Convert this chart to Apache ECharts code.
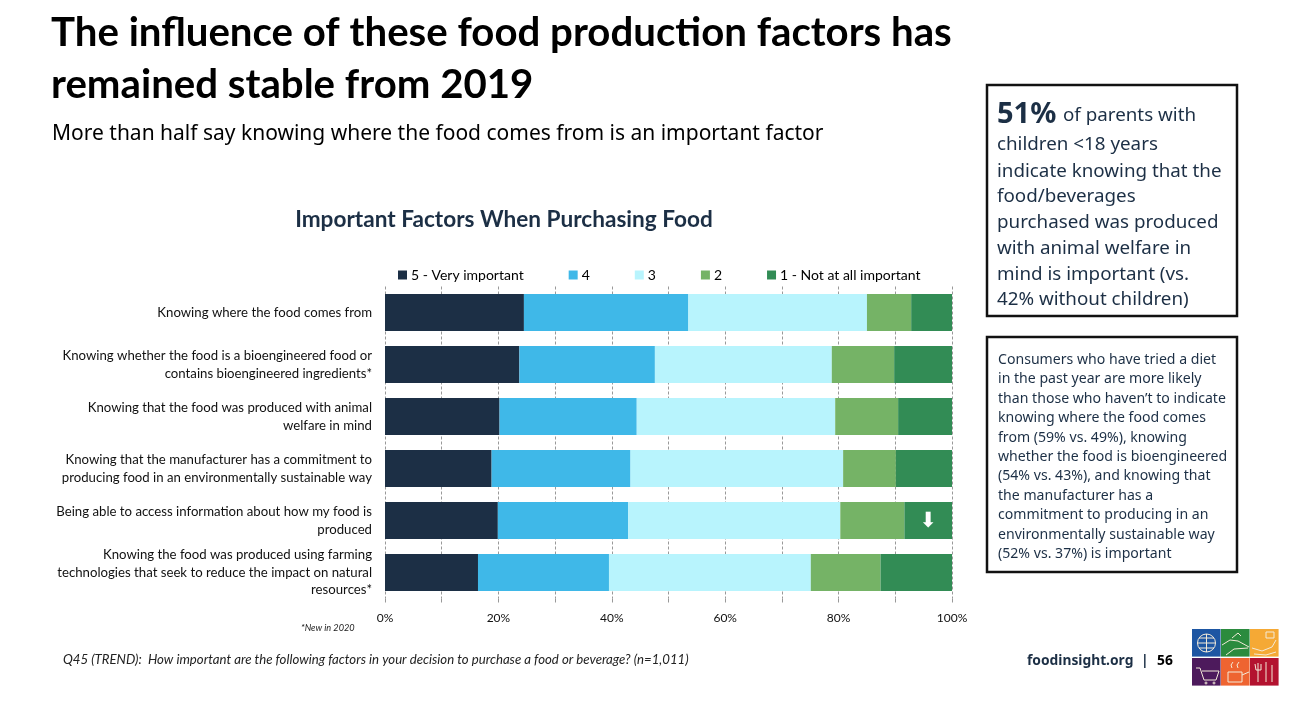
<!DOCTYPE html>
<html>
<head>
<meta charset="utf-8">
<style>
  html, body { margin: 0; padding: 0; background: #fff; }
  #bar_chart { width: 1291px; height: 715px; }
</style>
</head>
<body>
<div id="bar_chart"></div>
<script src="https://cdn.jsdelivr.net/npm/echarts@6/dist/echarts.min.js"></script>
<script>
var navy = '#1c2f45';
var factors = [
    'Knowing where the food comes from',
    'Knowing whether the food is a bioengineered food or\ncontains bioengineered ingredients*',
    'Knowing that the food was produced with animal\nwelfare in mind',
    'Knowing that the manufacturer has a commitment to\nproducing food in an environmentally sustainable way',
    'Being able to access information about how my food is\nproduced',
    'Knowing the food was produced using farming\ntechnologies that seek to reduce the impact on natural\nresources*'
];
var ratings = [
    {name: '5 - Very important', color: '#1c2f45', values: [24.5, 23.7, 20.2, 18.8, 19.9, 16.4]},
    {name: '4', color: '#3fb8e8', values: [29, 23.9, 24.2, 24.5, 23, 23.1]},
    {name: '3', color: '#b8f4fd', values: [31.5, 31.2, 35, 37.5, 37.4, 35.6]},
    {name: '2', color: '#75b366', values: [7.8, 11, 11.1, 9.3, 11.3, 12.3]},
    {name: '1 - Not at all important', color: '#328c55', values: [7.2, 10.2, 9.5, 9.9, 8.4, 12.6]}
];

var box1 = ['children <18 years', 'indicate knowing that the', 'food/beverages', 'purchased was produced', 'with animal welfare in', 'mind is important (vs.', '42% without children)'];
var box1_y = [145, 172, 197, 223, 249, 275, 300];
var box2 = [
    'Consumers who have tried a diet',
    'in the past year are more likely',
    'than those who haven\u2019t to indicate',
    'knowing where the food comes',
    'from (59% vs. 49%), knowing',
    'whether the food is bioengineered',
    '(54% vs. 43%), and knowing that',
    'the manufacturer has a',
    'commitment to producing in an',
    'environmentally sustainable way',
    '(52% vs. 37%) is important'
];

function label(x, y, text, font, color, align) {
    return {
        type: 'text', x: x, y: y, silent: true,
        style: {text: text, font: font, fill: color || '#000', align: align || 'left', verticalAlign: 'middle'}
    };
}
function frame(x, y, w, h) {
    return {type: 'rect', shape: {x: x, y: y, width: w, height: h}, style: {fill: '#fff', stroke: '#111', lineWidth: 2.5}};
}
function tile(x, y, color) {
    return {type: 'rect', shape: {x: x, y: y, width: 28.6, height: 27.6}, style: {fill: color}};
}
var logoStyle = {fill: 'none', stroke: '#f3ead8', lineWidth: 1};
function logoLine(points) {
    return {type: 'polyline', shape: {points: points}, style: logoStyle};
}
function logoCircle(cx, cy, r) {
    return {type: 'circle', shape: {cx: cx, cy: cy, r: r}, style: logoStyle};
}

var extras = [
    label(51, 33, 'The influence of these food production factors has', 'bold 40.2px Lato', '#000'),
    label(51, 85, 'remained stable from 2019', 'bold 40.2px Lato', '#000'),
    label(52, 134, 'More than half say knowing where the food comes from is an important factor', '21px "Noto Sans"', '#000'),
    label(504, 220, 'Important Factors When Purchasing Food', 'bold 22.6px Lato', navy, 'center'),
    label(301, 628, '*New in 2020', 'italic 9.2px Lato', '#222'),
    label(63, 660, 'Q45 (TREND):  How important are the following factors in your decision to purchase a food or beverage? (n=1,011)', 'italic 13.2px Lato', '#222'),
    label(1027, 661, 'foodinsight.org', 'bold 13.8px "Noto Sans"', navy),
    label(1141, 661, '|', 'bold 13.8px "Noto Sans"', navy),
    label(1157, 661, '56', 'bold 13.8px "Noto Sans"', '#000'),
    frame(987, 85, 250, 231),
    frame(987, 337, 250, 235),
    label(997, 115, '51%', 'bold 29px "Noto Sans"', navy),
    label(1063, 116, 'of parents with', '18.8px "Noto Sans"', navy),
    tile(1192, 629, '#1d56a3'),
    tile(1221, 629, '#2b8b3e'),
    tile(1250, 629, '#f5a935'),
    tile(1192, 658, '#4d1a5c'),
    tile(1221, 658, '#ee6431'),
    tile(1250, 658, '#b3122f'),
    // globe
    logoCircle(1206.5, 643, 9),
    logoLine([[1197.5, 643], [1215.5, 643]]),
    logoLine([[1206.5, 634], [1206.5, 652]]),
    logoLine([[1199, 638], [1214, 638]]),
    logoLine([[1199, 648], [1214, 648]]),
    // field
    logoLine([[1222, 645], [1230, 640], [1238, 641], [1249, 647]]),
    logoLine([[1226, 655], [1234, 649], [1248, 648]]),
    logoLine([[1232, 638], [1238, 633], [1241, 636]]),
    // hands
    logoLine([[1252, 648], [1262, 651], [1272, 647], [1276, 640]]),
    logoLine([[1266, 632], [1274, 632], [1274, 638], [1266, 638], [1266, 632]]),
    logoLine([[1254, 654], [1266, 655], [1276, 652]]),
    // cart
    logoLine([[1196, 668], [1200, 668], [1204, 680], [1216, 680], [1219, 671], [1202, 671]]),
    logoCircle(1206, 683, 1),
    logoCircle(1214, 683, 1),
    // pot
    logoLine([[1228, 672], [1242, 672], [1242, 682], [1228, 682], [1228, 672]]),
    logoLine([[1242, 675], [1249, 672]]),
    logoLine([[1232, 668], [1231, 665], [1233, 662]]),
    logoLine([[1238, 668], [1237, 665], [1239, 662]]),
    // cutlery
    logoLine([[1258, 663], [1258, 682]]),
    logoLine([[1266, 662], [1266, 682]]),
    logoLine([[1272, 665], [1272, 682]]),
    logoLine([[1255, 664], [1256, 670], [1261, 670], [1261, 664]])
];
box1.forEach(function (line, i) {
    extras.push(label(997, box1_y[i], line, '18.8px "Noto Sans"', navy));
});
box2.forEach(function (line, i) {
    extras.push(label(998, 360 + i * 19.4, line, '14.1px "Noto Sans"', navy));
});

var barChart = echarts.init(document.getElementById('bar_chart'));

var option = {
    animation: false,
    backgroundColor: '#fff',
    textStyle: {fontFamily: 'Lato'},
    graphic: extras,
    legend: {
        left: 398,
        top: 268,
        padding: 0,
        icon: 'rect',
        itemWidth: 9,
        itemHeight: 9,
        itemGap: 45,
        textStyle: {color: '#000', fontSize: 14, fontFamily: 'Lato', padding: [0, 0, 0, -1]},
        selectedMode: false,
        data: ratings.map(function (r) { return r.name; })
    },
    grid: {left: 385, top: 286.5, width: 567, height: 312},
    xAxis: {
        type: 'value',
        min: 0,
        max: 100,
        interval: 10,
        axisLine: {show: false},
        axisTick: {show: true, length: 4, lineStyle: {color: '#999'}},
        axisLabel: {
            color: '#111',
            fontSize: 12,
            margin: 14,
            formatter: function (v) { return v % 20 === 0 ? v + '%' : ''; }
        },
        splitLine: {show: true, lineStyle: {color: '#999', type: [3, 2], width: 1}}
    },
    yAxis: {
        type: 'category',
        inverse: true,
        data: factors,
        axisLine: {show: false},
        axisTick: {show: false},
        axisLabel: {color: '#111', fontSize: 13.2, lineHeight: 17.5, margin: 13, align: 'right'}
    },
    series: ratings.map(function (r, idx) {
        return {
            name: r.name,
            type: 'bar',
            stack: 'total',
            barWidth: 37,
            itemStyle: {color: r.color},
            data: r.values.map(function (v, row) {
                if (idx === 4 && row === 4) {
                    // 2020 significant drop marker
                    return {
                        value: v,
                        label: {show: true, position: 'inside', offset: [0, 1], formatter: '\u2B07', color: '#fff', fontSize: 21, fontFamily: 'DejaVu Sans'}
                    };
                }
                return v;
            })
        };
    })
};
barChart.setOption(option);
window.addEventListener('resize', function () {
    barChart.resize();
});
</script>
</body>
</html>
